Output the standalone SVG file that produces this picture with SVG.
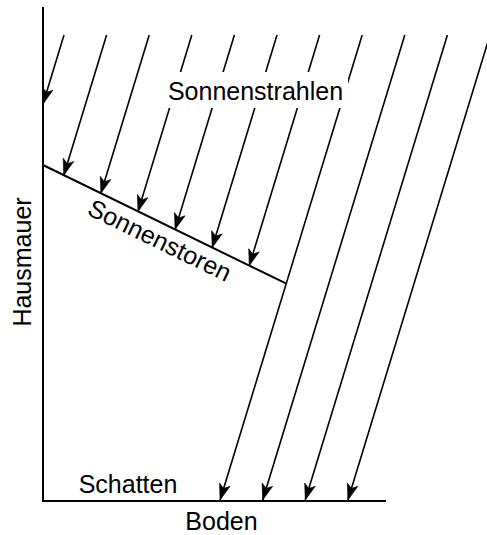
<svg xmlns="http://www.w3.org/2000/svg" width="487" height="535" viewBox="0 0 487 535">
<style>
.ax{stroke:#000;stroke-width:2;fill:none}
.ray{stroke:#000;stroke-width:1.6;fill:none}
.arr{marker-end:url(#ah)}
.lbl{font-family:"Liberation Sans",Arial,sans-serif;font-size:25px;fill:#000}
</style>
<defs>
<marker id="ah" markerUnits="userSpaceOnUse" viewBox="-17 -7 18 14" refX="0" refY="0" markerWidth="18" markerHeight="14" orient="auto">
<path d="M0,0 L-16,-5.5 L-12,0 L-16,5.5 Z" fill="#000" stroke="#000" stroke-width="0.6" stroke-linejoin="miter"/>
</marker>
</defs>
<rect width="487" height="535" fill="#fff"/>
<g id="connectors">
<line class="ray arr" x1="64" y1="35" x2="43" y2="103.9"/>
<line class="ray arr" x1="106.6" y1="35" x2="63.8" y2="175.2"/>
<line class="ray arr" x1="149.2" y1="35" x2="100.9" y2="193.3"/>
<line class="ray arr" x1="191.8" y1="35" x2="138" y2="211.4"/>
<line class="ray arr" x1="234.4" y1="35" x2="175.1" y2="229.5"/>
<line class="ray arr" x1="277" y1="35" x2="212.2" y2="247.6"/>
<line class="ray arr" x1="319.6" y1="35" x2="249.3" y2="265.6"/>
<line class="ray arr" x1="362.2" y1="35" x2="220.1" y2="500"/>
<line class="ray arr" x1="404.8" y1="35" x2="262.7" y2="500"/>
<line class="ray arr" x1="447.4" y1="35" x2="305.3" y2="500"/>
<line class="ray arr" x1="490" y1="35" x2="347.9" y2="500"/>
</g>
<g id="wall">
<line class="ax" x1="43" y1="7" x2="43" y2="502"/>
<text class="lbl" text-anchor="middle" transform="translate(31,262) rotate(-90)">Hausmauer</text>
</g>
<g id="ground">
<line class="ax" x1="42" y1="501" x2="386" y2="501"/>
<text class="lbl" x="221.5" y="530" text-anchor="middle">Boden</text>
</g>
<g id="awning">
<line class="ax" x1="43" y1="165" x2="286.4" y2="283.7"/>
<text class="lbl" text-anchor="middle" transform="translate(156,248) rotate(26)">Sonnenstoren</text>
</g>
<g id="sunrays-label">
<rect x="163" y="72" width="185" height="36" fill="#fff"/>
<text class="lbl" x="255.5" y="100" text-anchor="middle">Sonnenstrahlen</text>
</g>
<g id="shadow">
<text class="lbl" x="128" y="493" text-anchor="middle">Schatten</text>
</g>
</svg>
